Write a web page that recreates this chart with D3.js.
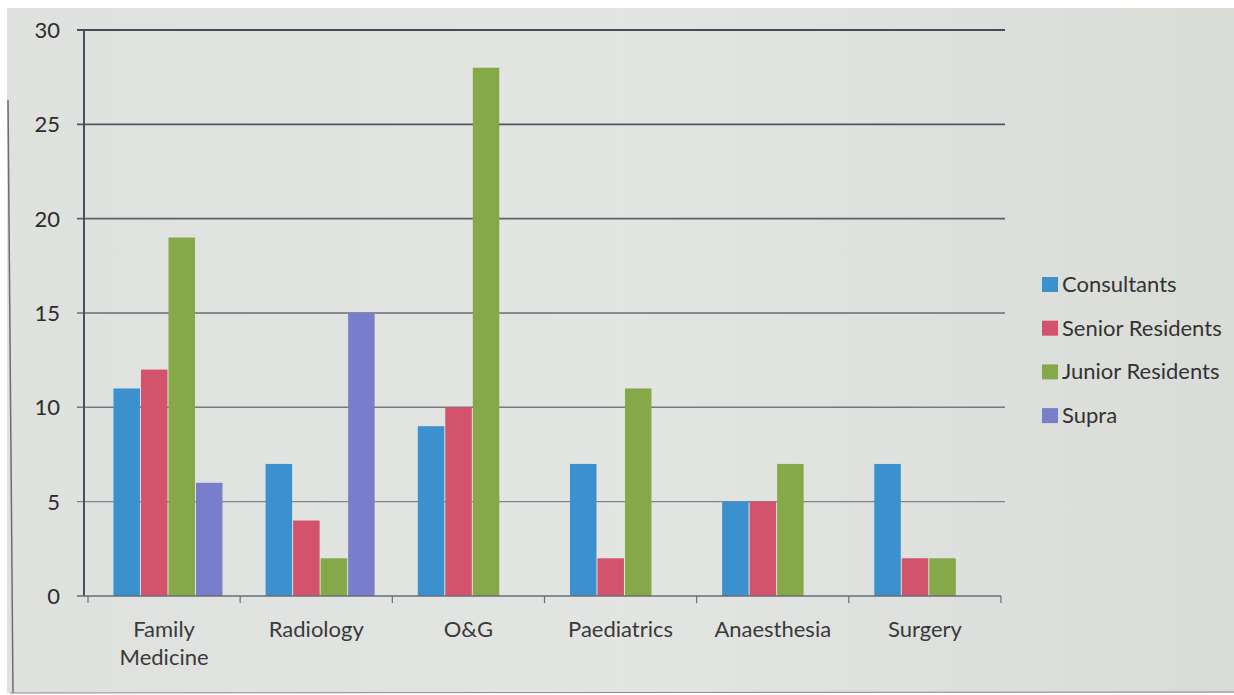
<!DOCTYPE html>
<html><head><meta charset="utf-8">
<script src="https://cdn.jsdelivr.net/npm/d3@7"></script>
<style>html,body{margin:0;padding:0;background:#fff;}svg{display:block;}</style>
</head><body><svg id="c" width="1234" height="695"></svg>
<script>
const categories = ["Family Medicine", "Radiology", "O&G", "Paediatrics", "Anaesthesia", "Surgery"];
const seriesNames = ["Consultants", "Senior Residents", "Junior Residents", "Supra"];
const consultants = [11, 7, 9, 7, 5, 7];
const seniorResidents = [12, 4, 10, 2, 5, 2];
const juniorResidents = [19, 2, 28, 11, 7, 2];
const supra = [6, 15, 0, 0, 0, 0];
const yTicks = [0, 5, 10, 15, 20, 25, 30];
const colors = ["#3b91cd", "#d3526c", "#85a948", "#787ecb"];

(function draw() {
const seriesValues = [consultants, seniorResidents, juniorResidents, supra];
const svg = d3.select("#c");
const font = "Lato, 'Open Sans', sans-serif";

// background (photo of screen)
const grad = svg.append("defs").append("linearGradient").attr("id","bg").attr("x1",0).attr("x2",1).attr("y1",0).attr("y2",0);
grad.append("stop").attr("offset","0%").attr("stop-color","#dfe1df");
grad.append("stop").attr("offset","50%").attr("stop-color","#e3e5e3");
grad.append("stop").attr("offset","100%").attr("stop-color","#dadcd8");
svg.append("rect").attr("x",7).attr("y",8).attr("width",1227).attr("height",685).attr("fill","url(#bg)");
svg.append("line").attr("x1",8).attr("y1",100).attr("x2",13).attr("y2",693).attr("stroke","#6a6d72").attr("stroke-width",1.5);
svg.append("line").attr("x1",10).attr("y1",693).attr("x2",1234).attr("y2",692).attr("stroke","#8a8d90").attr("stroke-width",1);

const pL = 88, pR = 1001, pT = 30, pB = 596;
const x0 = d3.scaleBand().domain(categories).range([pL, pR]).padding(0);
const gw = x0.bandwidth();
const x1 = d3.scaleBand().domain(seriesNames).range([gw*0.164, gw*0.887]).padding(0);
const y = d3.scaleLinear().domain([0, 30]).range([pB, pT]);
const gridCol = d3.scaleLinear().domain([5, 30]).range(["#80838b", "#474a57"]);
const gridW = d3.scaleLinear().domain([5, 30]).range([1.3, 2]);

// gridlines
svg.append("g").selectAll("line").data(yTicks.filter(t=>t>0)).join("line")
  .attr("x1", pL - 11).attr("x2", pR + 4)
  .attr("y1", d => y(d)).attr("y2", d => y(d))
  .attr("stroke", d => gridCol(d)).attr("stroke-width", d => gridW(d));

// y axis labels
svg.append("g").selectAll("text").data(yTicks).join("text")
  .attr("x", 60).attr("y", d => y(d)).attr("dy", "0.36em")
  .attr("text-anchor", "end").attr("font-family", font).attr("font-size", 22)
  .attr("fill", "#2c2c2c").text(d => d);

// bars
const data = categories.map((c, i) => ({cat: c, vals: seriesNames.map((s, j) => ({s, v: seriesValues[j][i], j}))}));
svg.append("g").selectAll("g").data(data).join("g")
  .attr("transform", d => `translate(${x0(d.cat)},0)`)
  .selectAll("rect").data(d => d.vals.filter(v => v.v > 0)).join("rect")
  .attr("x", d => x1(d.s) + 0.5).attr("width", x1.bandwidth() - 1)
  .attr("y", d => y(d.v)).attr("height", d => y(0) - y(d.v))
  .attr("fill", d => colors[d.j]);

// axes lines
svg.append("line").attr("x1", pL - 4).attr("x2", pL - 4).attr("y1", pT).attr("y2", pB)
  .attr("stroke", "#4c4f5b").attr("stroke-width", 2);
svg.append("line").attr("x1", pL - 11).attr("x2", pR).attr("y1", pB).attr("y2", pB)
  .attr("stroke", "#6a6d76").attr("stroke-width", 1.6);
const tickXs = categories.map(c => x0(c)).concat([pR]);
svg.append("g").selectAll("line").data(tickXs).join("line")
  .attr("x1", d => d).attr("x2", d => d).attr("y1", pB).attr("y2", pB + 7)
  .attr("stroke", "#6a6d74").attr("stroke-width", 1.2);

// category labels
const catG = svg.append("g").selectAll("text").data(categories).join("text")
  .attr("x", d => x0(d) + gw/2).attr("y", 637)
  .attr("text-anchor", "middle").attr("font-family", font).attr("font-size", 22).attr("fill", "#3a3a3a");
catG.each(function(d) {
  const words = d === "Family Medicine" ? ["Family", "Medicine"] : [d];
  const t = d3.select(this);
  words.forEach((w, k) => t.append("tspan").attr("x", x0(d) + gw/2).attr("dy", k ? 28 : 0).text(w));
});

// legend
const lg = svg.append("g").selectAll("g").data(seriesNames).join("g")
  .attr("transform", (d, i) => `translate(1042, ${292 + i*43.7})`);
lg.append("rect").attr("x", 0).attr("y", -15).attr("width", 16).attr("height", 15).attr("fill", (d, i) => colors[i]);
lg.append("text").attr("x", 20).attr("y", 0).attr("font-family", font)
  .attr("font-size", 22).attr("fill", "#333").text(d => d);
})();
</script></body></html>
